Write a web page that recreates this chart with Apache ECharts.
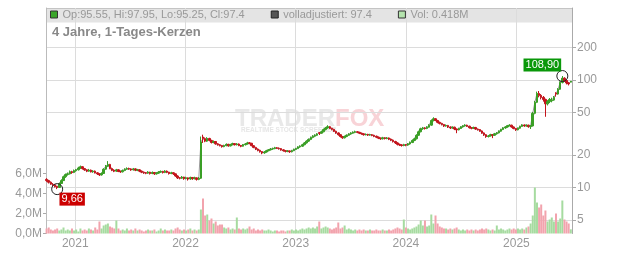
<!DOCTYPE html>
<html><head><meta charset="utf-8">
<script src="https://cdn.jsdelivr.net/npm/echarts@6/dist/echarts.min.js"></script>
<style>html,body{margin:0;padding:0;background:#fff}#c{width:632px;height:253px}</style>
</head><body><div id="c"></div>
<script>
// first weekly candle (year, monthIndex, day)
const firstWeek = [2020, 8, 28];
// weekly candles: [open, close, low, high]
const candles = [
[11.9,11.6,11.3,12.2],[11.6,11.2,10.9,11.8],[11.2,10.8,10.6,11.4],[10.7,10.6,10.3,11.0],[10.6,10.2,10.0,10.8],[10.2,10.0,9.66,10.4],[10.0,10.9,9.9,11.1],[10.9,11.6,10.8,11.9],[11.6,12.6,11.5,12.9],[12.6,13.2,12.3,13.5],
[13.2,13.4,12.9,13.8],[13.4,14.0,13.2,14.4],[14.0,13.8,13.4,14.3],[13.8,14.3,13.6,14.7],[14.3,14.6,14.0,14.9],[14.6,15.2,14.4,15.6],[15.2,15.6,14.9,16.0],[15.6,15.0,14.7,15.8],[15.0,14.6,14.3,15.2],[14.6,14.2,13.9,14.8],
[14.2,14.5,14.0,14.9],[14.5,14.0,13.8,14.7],[14.0,14.2,13.7,14.5],[14.2,13.7,13.5,14.4],[13.7,13.4,13.1,13.9],[13.4,13.1,12.8,13.6],[13.1,13.5,12.9,13.8],[13.5,14.8,13.4,15.1],[14.8,15.8,14.6,16.2],[15.8,16.4,15.5,17.6],
[16.4,15.0,14.8,16.6],[15.0,14.5,14.2,15.3],[14.5,14.2,13.9,14.8],[14.2,14.6,14.0,14.9],[14.6,14.1,13.9,14.8],[14.1,14.0,13.7,14.4],[14.0,14.4,13.8,14.7],[14.4,14.8,14.2,15.1],[14.8,15.0,14.6,15.4],[15.0,14.9,14.6,15.3],
[14.9,14.6,14.3,15.1],[14.6,14.9,14.4,15.2],[14.9,14.5,14.2,15.1],[14.5,14.6,14.2,14.9],[14.6,14.2,13.9,14.8],[14.2,13.9,13.6,14.4],[13.9,13.7,13.4,14.1],[13.7,13.6,13.3,13.9],[13.6,13.9,13.4,14.2],[13.9,13.5,13.2,14.0],
[13.5,13.8,13.3,14.1],[13.8,13.4,13.1,13.9],[13.4,13.6,13.2,13.9],[13.6,13.9,13.4,14.2],[13.9,14.1,13.7,14.4],[14.1,13.8,13.5,14.3],[13.8,14.2,13.6,14.5],[14.2,13.9,13.6,14.4],[13.9,13.5,13.2,14.0],[13.5,13.7,13.3,14.0],
[13.7,13.4,13.1,13.9],[13.4,12.8,12.6,13.5],[12.8,12.3,12.0,13.0],[12.3,12.2,11.9,12.5],[12.2,12.5,12.0,12.8],[12.5,12.1,11.8,12.6],[12.1,12.3,11.9,12.6],[12.3,12.0,11.6,12.4],[12.0,12.4,11.8,12.6],[12.4,12.1,11.8,12.5],
[12.1,12.3,11.9,12.6],[12.3,11.9,11.6,12.4],[11.9,12.2,11.7,12.5],[12.2,26.5,12.0,29.8],[29.5,28.5,26.0,31.0],[28.5,27.0,26.4,29.2],[27.0,28.6,26.6,29.4],[28.6,27.4,26.9,29.0],[27.4,26.2,25.7,27.8],[26.2,26.8,25.8,27.4],
[26.8,25.5,25.0,27.0],[25.5,25.0,24.5,25.9],[25.0,24.6,24.1,25.4],[24.6,24.0,23.5,24.9],[24.0,24.5,23.7,25.0],[24.5,25.2,24.2,25.7],[25.2,24.4,24.0,25.5],[24.4,25.0,24.1,25.5],[25.0,25.6,24.7,26.1],[25.6,25.0,24.6,25.9],
[25.0,25.4,24.6,25.9],[25.4,24.6,24.2,25.7],[24.6,24.2,23.7,24.9],[24.2,25.0,24.0,25.4],[25.0,25.4,24.6,25.9],[25.4,26.0,25.1,26.6],[26.0,25.8,25.2,26.5],[25.8,24.5,24.2,26.0],[24.5,23.6,23.2,24.8],[23.6,22.8,22.3,23.9],
[22.8,22.2,21.7,23.1],[22.2,21.6,21.1,22.5],[21.6,21.0,20.4,21.8],[21.0,21.4,20.6,21.8],[21.4,22.0,21.1,22.4],[22.0,22.4,21.7,22.8],[22.4,22.8,22.1,23.3],[22.8,23.0,22.4,23.5],[23.0,23.4,22.7,23.9],[23.4,23.2,22.8,23.8],
[23.2,23.0,22.5,23.6],[23.0,22.4,22.0,23.3],[22.4,22.0,21.6,22.7],[22.0,21.7,21.2,22.3],[21.7,21.9,21.3,22.3],[21.9,21.5,21.0,22.1],[21.5,22.0,21.2,22.4],[22.0,22.6,21.8,23.0],[22.6,23.0,22.3,23.4],[23.0,23.8,22.8,24.2],
[23.8,24.2,23.4,24.7],[24.2,25.0,23.9,25.5],[25.0,26.0,24.7,26.5],[26.0,27.0,25.6,27.5],[27.0,28.0,26.6,28.6],[28.0,29.2,27.6,29.8],[29.2,30.0,28.7,30.7],[30.0,30.6,29.4,31.3],[30.6,31.4,30.1,32.0],[32.4,32.0,30.8,32.8],
[32.0,33.0,31.6,33.8],[33.0,34.6,32.6,35.3],[34.6,35.8,34.0,36.6],[35.8,36.8,35.2,38.0],[36.8,35.6,35.0,37.4],[35.6,34.8,34.0,36.0],[34.8,33.4,32.8,35.2],[33.4,32.2,31.6,33.8],[32.2,31.0,30.4,32.6],[31.0,29.8,29.2,31.4],
[29.8,29.0,28.4,30.2],[29.0,29.8,28.6,30.4],[29.8,30.6,29.4,31.2],[30.6,31.4,30.2,32.0],[31.4,32.0,30.9,32.7],[32.0,32.6,31.6,33.3],[32.6,33.0,32.0,33.8],[33.0,32.6,32.0,33.5],[32.6,32.0,31.4,33.0],[32.0,31.6,31.0,32.4],
[31.6,31.0,30.4,32.0],[31.0,31.2,30.5,31.8],[31.2,30.8,30.2,31.6],[30.8,31.0,30.3,31.6],[31.0,30.6,30.0,31.4],[30.6,30.0,29.4,31.0],[30.0,29.4,28.8,30.4],[29.4,28.8,28.2,29.8],[28.8,28.4,27.8,29.2],[28.4,29.0,28.0,29.6],
[29.0,28.6,28.0,29.4],[28.6,28.9,28.1,29.5],[28.9,28.2,27.6,29.2],[28.2,27.6,27.0,28.6],[27.6,26.8,26.2,28.0],[26.8,26.0,25.4,27.2],[26.0,25.2,24.6,26.4],[25.2,24.9,24.3,25.6],[24.9,24.6,24.0,25.3],[24.6,25.0,24.2,25.5],
[25.0,24.8,24.2,25.4],[24.8,25.4,24.4,25.9],[25.4,26.2,25.0,26.8],[26.2,27.4,25.9,28.0],[27.4,28.4,27.0,29.0],[28.4,30.6,28.0,31.2],[30.6,33.0,30.2,33.8],[33.0,35.2,32.6,36.0],[35.2,35.8,34.4,36.6],[35.8,35.4,34.6,36.4],
[35.4,36.4,34.9,37.2],[36.4,38.0,36.0,38.8],[38.0,42.0,37.6,43.0],[42.0,43.6,41.2,45.0],[43.6,42.0,41.4,44.2],[42.0,40.4,39.6,42.6],[40.4,39.5,38.6,41.0],[39.5,38.6,37.8,40.0],[38.6,37.4,36.6,39.0],[37.4,37.8,36.8,38.6],
[37.8,36.6,35.8,38.2],[36.6,35.8,35.0,37.0],[35.8,36.4,35.2,37.0],[36.4,35.0,34.2,36.8],[35.0,34.4,32.0,35.4],[34.4,35.4,34.0,36.0],[35.4,36.6,35.0,37.2],[36.6,37.4,36.0,38.0],[37.4,38.0,36.8,38.8],[38.0,37.2,36.6,38.4],
[37.2,36.0,35.4,37.6],[36.0,35.6,34.8,36.4],[35.6,36.2,35.0,36.8],[36.2,35.0,34.4,36.6],[35.0,34.6,33.8,35.4],[34.6,33.6,33.0,35.0],[33.6,32.2,31.6,34.0],[32.2,31.0,30.2,32.6],[31.0,29.8,29.0,31.4],[29.8,30.2,29.2,30.8],
[30.2,31.0,29.8,31.6],[31.0,30.6,28.8,31.4],[30.6,31.6,30.2,32.2],[31.6,32.2,31.0,32.8],[32.2,33.4,31.8,34.0],[33.4,34.6,33.0,35.2],[34.6,35.8,34.2,36.4],[35.8,36.6,35.2,37.2],[36.6,37.6,36.0,38.2],[37.6,38.0,37.0,38.8],
[38.0,36.6,36.0,38.4],[36.6,35.4,34.8,37.0],[35.4,34.4,33.6,35.8],[34.4,35.6,34.0,36.2],[35.6,37.0,35.2,37.6],[37.0,38.2,36.6,38.8],[38.2,37.4,36.8,38.6],[37.4,38.0,36.8,38.6],[38.0,36.8,36.0,38.4],[36.8,37.4,35.0,38.0],
[37.4,49.0,37.0,50.5],[49.0,62.0,48.0,64.0],[62.0,75.0,61.0,78.0],[75.0,72.0,69.0,79.0],[72.0,69.0,66.0,74.0],[69.0,66.0,63.0,71.0],[66.0,60.0,45.5,67.0],[60.0,63.0,58.0,65.0],[63.0,66.0,61.0,68.0],[64.0,65.0,62.0,68.5],
[65.0,69.0,64.0,71.0],[75.5,74.0,70.0,77.0],[74.0,82.0,73.0,84.0],[82.0,95.0,81.0,97.0],[95.0,104.0,93.0,108.9],[104.0,99.0,96.0,106.0],[99.0,94.0,91.0,100.0],[94.0,92.0,89.0,96.0],[95.55,97.4,95.25,97.95]
];
// volume in millions
const volumes = [
0.5,0.6,0.4,0.3,0.4,0.5,0.3,0.4,0.6,0.3,
0.4,0.3,0.5,0.3,0.4,0.2,0.5,0.3,0.4,0.3,
0.5,0.4,0.3,0.6,0.4,1.2,0.5,0.8,0.9,1.0,
0.7,0.6,0.5,1.3,0.5,0.3,0.4,0.3,0.5,0.3,
0.4,0.3,0.5,0.3,0.4,0.3,0.2,0.3,0.4,0.3,
0.3,0.4,0.2,0.3,0.5,0.3,0.4,0.3,0.3,0.4,
0.3,0.5,0.6,0.4,0.3,0.4,0.3,0.4,0.5,0.3,
0.4,0.3,0.4,2.4,3.5,1.8,1.9,1.3,1.5,1.0,
1.2,0.8,0.9,0.9,0.6,0.5,0.6,0.4,0.5,0.4,
1.6,0.5,0.4,0.5,0.4,0.5,0.7,0.4,0.5,0.3,
0.4,0.3,0.4,0.3,0.3,0.4,0.3,0.2,0.3,0.3,
0.2,0.3,0.3,0.2,0.3,0.3,0.4,0.3,0.4,0.3,
0.4,0.5,0.4,0.5,0.6,0.5,0.6,0.5,0.7,1.2,
0.5,0.6,0.7,0.6,0.5,0.4,0.5,0.6,1.1,0.5,
0.6,0.8,0.4,0.5,0.4,0.3,0.4,0.3,0.4,0.3,
0.4,0.3,0.3,0.4,0.3,0.3,0.4,0.3,0.3,0.4,
0.3,0.3,0.4,0.3,0.4,0.5,0.6,0.5,0.4,1.4,
0.6,0.5,0.4,0.5,0.6,0.7,0.9,1.3,0.8,1.3,
0.7,0.8,1.9,1.0,1.8,1.0,0.7,0.6,0.5,0.5,
0.4,0.5,0.4,0.5,0.6,0.4,0.3,0.4,0.3,0.4,
0.3,0.4,0.3,0.4,0.3,0.4,0.5,0.4,0.5,0.4,
0.3,0.4,0.3,0.8,0.4,0.5,0.4,0.3,0.4,0.5,
0.4,0.5,0.4,0.5,0.4,0.5,0.4,0.6,0.7,1.0,
1.8,4.6,3.1,2.6,2.9,1.8,2.3,1.2,1.4,1.6,
1.2,2.0,1.2,1.5,3.3,1.4,1.2,1.0,0.418
];
const priceTicks = [5, 10, 20, 50, 100, 200];
const volumeTicks = [0, 2, 4, 6];
const yearTicks = [2021, 2022, 2023, 2024, 2025];
const axisStart = [2020, 8, 26];
const axisEnd = [2025, 6, 4];
const titleText = '4 Jahre, 1-Tages-Kerzen';

const UP = '#3a9f26', DOWN = '#c4141c';
const VUP = '#a6dba0', VDOWN = '#f2a3ad';

const dates = candles.map((_, i) => new Date(firstWeek[0], firstWeek[1], firstWeek[2] + 7 * i).getTime());
const candleData = candles.map((c, i) => [dates[i], c[0], c[1], c[2], c[3]]);
const closeData = candles.map((c, i) => [dates[i], c[1]]);
const volData = volumes.map((v, i) => ({
  value: [dates[i], v],
  itemStyle: { color: candles[i][1] >= candles[i][0] ? VUP : VDOWN }
}));
let maxI = 0, minI = 0;
candles.forEach((c, i) => { if (c[3] > candles[maxI][3]) maxI = i; if (c[2] < candles[minI][2]) minI = i; });
const last = candles[candles.length - 1];
const lastVol = volumes[volumes.length - 1];
const fmtDE = v => v.toFixed(2).replace('.', ',');
const yearStamps = yearTicks.map(y => new Date(y, 0, 1).getTime());

const chart = echarts.init(document.getElementById('c'), null, { renderer: 'canvas' });
chart.setOption({
  animation: false,
  textStyle: { fontFamily: 'Liberation Sans, Arial, sans-serif' },
  grid: { left: 46, right: 60, top: 8, bottom: 19.5 },
  title: {
    text: titleText, left: 52, top: 26, padding: 0,
    textStyle: { fontSize: 13, fontWeight: 'bold', color: '#888', fontFamily: 'Liberation Sans, Arial, sans-serif' }
  },
  legend: {
    left: 50, top: 9, padding: 0, itemGap: 26, itemWidth: 7, itemHeight: 7, icon: 'rect',
    textStyle: { fontSize: 11, color: '#999' },
    data: [
      { name: 'Kurs', itemStyle: { color: '#3aa52a', borderColor: '#333', borderWidth: 1 } },
      { name: 'volladjustiert', itemStyle: { color: '#555', borderColor: '#222', borderWidth: 1 } },
      { name: 'Vol', itemStyle: { color: '#b4e3ad', borderColor: '#333', borderWidth: 1 } }
    ],
    formatter: function (name) {
      if (name === 'Kurs') return 'Op:' + last[0] + ', Hi:' + last[3] + ', Lo:' + last[2] + ', Cl:' + last[1];
      if (name === 'volladjustiert') return 'volladjustiert: ' + last[1];
      return 'Vol: ' + lastVol + 'M';
    },
    selectedMode: false
  },
  graphic: [
    { type: 'rect', z: -10, shape: { x: 46, y: 8, width: 526, height: 14.5 }, style: { fill: '#e4e4e4' } },
    { type: 'line', z: -9, shape: { x1: 46, y1: 8.5, x2: 572, y2: 8.5 }, style: { stroke: '#c4c4c4', lineWidth: 1 } },
    { type: 'text', z: -5, x: 235, y: 107, style: { text: 'TRADER', font: 'bold 24px Liberation Sans, Arial, sans-serif', fill: '#e8e8e8' } },
    { type: 'text', z: -5, x: 335, y: 107, style: { text: 'FOX', font: 'bold 24px Liberation Sans, Arial, sans-serif', fill: '#f8d3d7' } },
    { type: 'text', z: -5, x: 241, y: 127, style: { text: 'REALTIME STOCK SCREENER', font: 'bold 6.5px Liberation Sans, Arial, sans-serif', fill: '#e6e6e6' } }
  ],
  xAxis: {
    type: 'value',
    min: new Date(axisStart[0], axisStart[1], axisStart[2]).getTime(),
    max: new Date(axisEnd[0], axisEnd[1], axisEnd[2]).getTime(),
    axisLine: { show: false },
    axisTick: { show: false, customValues: yearStamps },
    axisLabel: {
      customValues: yearStamps,
      formatter: v => String(new Date(v).getFullYear()),
      color: '#999', fontSize: 12, margin: 4
    },
    splitLine: { show: true, lineStyle: { color: '#dcdcdc', width: 1 } }
  },
  yAxis: [
    {
      type: 'log', position: 'right', min: 3.734, max: 467.6,
      axisLine: { show: true, lineStyle: { color: '#aaa' } },
      axisTick: { show: true, length: 4, customValues: priceTicks, lineStyle: { color: '#aaa' } },
      axisLabel: { customValues: priceTicks, color: '#999', fontSize: 12, margin: 5 },
      splitLine: { show: true, lineStyle: { color: '#dcdcdc', width: 1 } }
    },
    {
      type: 'value', position: 'left', min: 0, max: 22.55,
      axisLine: { show: true, lineStyle: { color: '#bbb' } },
      axisTick: { show: true, length: 3, customValues: volumeTicks, lineStyle: { color: '#aaa' } },
      axisLabel: { customValues: volumeTicks, color: '#999', fontSize: 12, margin: 4, formatter: v => v.toFixed(1).replace('.', ',') + 'M' },
      splitLine: { show: false }
    }
  ],
  series: [
    {
      name: 'Vol', type: 'bar', yAxisIndex: 1, data: volData, barWidth: 2, z: 1,
      itemStyle: { color: VUP }
    },
    {
      name: 'volladjustiert', type: 'line', yAxisIndex: 0, data: closeData, showSymbol: false, z: 2,
      lineStyle: { color: '#999', width: 1 }, itemStyle: { color: '#555' }
    },
    {
      name: 'Kurs', type: 'candlestick', yAxisIndex: 0, data: candleData, barWidth: 2, z: 3,
      itemStyle: { color: UP, color0: DOWN, borderColor: UP, borderColor0: DOWN, borderWidth: 1 },
      markPoint: {
        symbol: 'circle', symbolSize: 11,
        itemStyle: { color: 'rgba(0,0,0,0)', borderColor: '#222', borderWidth: 1 },
        label: { show: true, position: 'inside', color: '#fff', fontSize: 11, padding: [1, 2, 0, 2], lineHeight: 12 },
        data: [
          { coord: [dates[maxI], candles[maxI][3]], value: candles[maxI][3],
            label: { formatter: fmtDE(candles[maxI][3]), backgroundColor: '#0a980a', offset: [-20, -11] } },
          { coord: [dates[minI], candles[minI][2]], value: candles[minI][2],
            label: { formatter: fmtDE(candles[minI][2]), backgroundColor: '#cc0000', offset: [15, 10] } }
        ]
      }
    }
  ]
});
</script></body></html>
